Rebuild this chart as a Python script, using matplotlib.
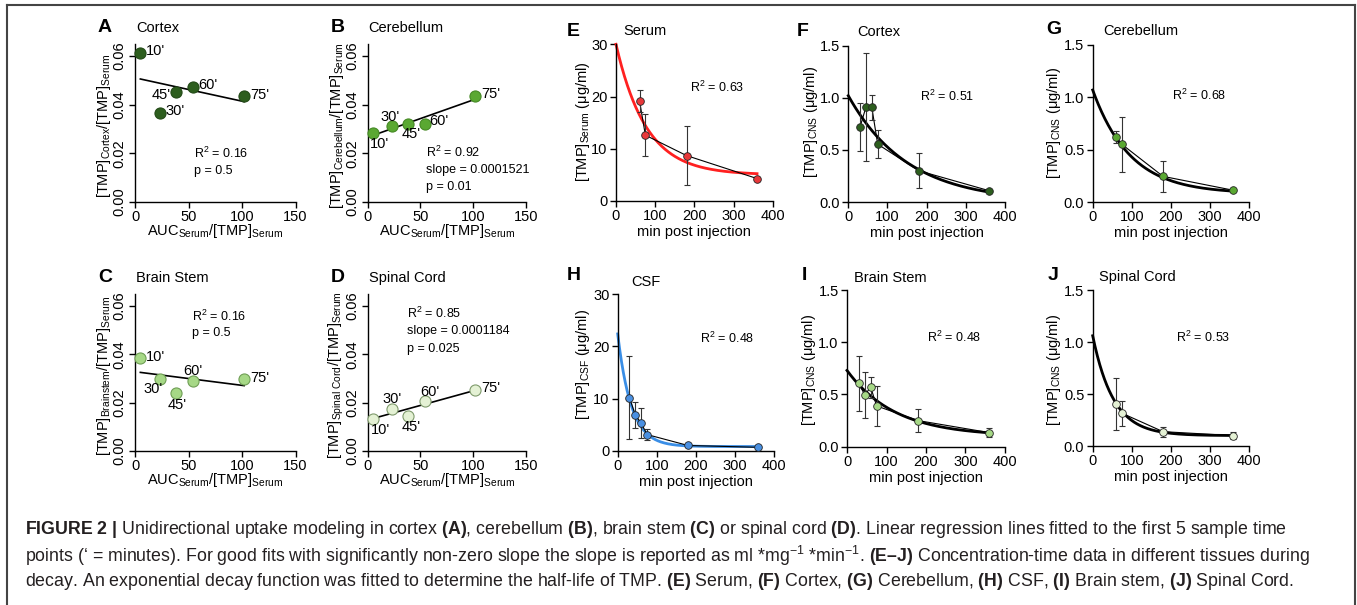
import matplotlib

matplotlib.use("Agg")

import matplotlib.pyplot as plt  # noqa: E402
import numpy as np  # noqa: E402
from matplotlib.lines import Line2D  # noqa: E402

plt.rcParams["font.family"] = ["Liberation Sans", "DejaVu Sans"]
plt.rcParams["mathtext.fontset"] = "custom"
plt.rcParams["mathtext.rm"] = "Liberation Sans"
plt.rcParams["mathtext.it"] = "Liberation Sans:italic"
plt.rcParams["mathtext.bf"] = "Liberation Sans:bold"

# ---- data: uptake (A-D) ----
auc_ratio = [5, 23, 38, 54, 102]
time_labels = ["10'", "30'", "45'", "60'", "75'"]
ratio_cortex = [0.0612, 0.0365, 0.0454, 0.0472, 0.0435]
ratio_cerebellum = [0.0282, 0.0312, 0.0319, 0.0322, 0.0436]
ratio_brainstem = [0.0386, 0.0299, 0.0241, 0.0290, 0.0300]
ratio_spinal = [0.0132, 0.0174, 0.0146, 0.0207, 0.0251]

# ---- data: decay (E-J) ----
t_serum = [60, 75, 180, 360]
serum_mean = [19.2, 12.6, 8.7, 4.3]
serum_err = [2.1, 4.0, 5.7, 0.0]

t_cortex = [30, 45, 60, 75, 180, 360]
cortex_mean = [0.72, 0.91, 0.91, 0.555, 0.30, 0.108]
cortex_err = [0.23, 0.52, 0.12, 0.135, 0.17, 0.0]

t_cerebellum = [60, 75, 180, 360]
cerebellum_mean = [0.62, 0.55, 0.245, 0.112]
cerebellum_err = [0.055, 0.26, 0.145, 0.0]

t_csf = [30, 45, 60, 75, 180, 360]
csf_mean = [10.2, 6.85, 5.3, 3.1, 1.0, 0.65]
csf_err = [7.9, 2.55, 2.9, 1.0, 0.2, 0.0]

t_brainstem = [30, 45, 60, 75, 180, 360]
brainstem_mean = [0.605, 0.495, 0.57, 0.39, 0.25, 0.135]
brainstem_err = [0.263, 0.223, 0.1, 0.19, 0.113, 0.044]

t_spinal = [60, 75, 180, 360]
spinal_mean = [0.40, 0.315, 0.138, 0.10]
spinal_err = [0.25, 0.12, 0.048, 0.033]

# one-phase decay fits: (y0, plateau, k)
fit_serum = (30.0, 5.0, 0.013)
fit_cortex = (1.02, 0.0, 0.0066)
fit_cerebellum = (1.07, 0.08, 0.0104)
fit_csf = (22.4, 0.8, 0.029)
fit_brainstem = (0.73, 0.10, 0.0082)
fit_spinal = (1.06, 0.10, 0.0189)

W, H = 1357, 605
fig = plt.figure(figsize=(W / 100, H / 100), dpi=100)


def px_axes(x0, x1, yb, yt):
    return fig.add_axes([x0 / W, 1 - yb / H, (x1 - x0) / W, (yb - yt) / H])


def ftext(x, y, s, **kw):
    kw.setdefault("va", "center")
    return fig.text(x / W, 1 - y / H, s, **kw)


def style(ax, rot_y=False):
    ax.spines[["top", "right"]].set_visible(False)
    ax.spines[["left", "bottom"]].set_linewidth(1.0)
    ax.tick_params(direction="out", length=4, width=1, labelsize=10.5, pad=2)
    if rot_y:
        ax.tick_params(axis="y", labelrotation=90)
        for lab in ax.get_yticklabels():
            lab.set_va("center")


def uptake_panel(box, y, color, edge, labels_off, stats, letter, title, ylabel):
    ax = px_axes(*box)
    ax.plot(auc_ratio, y, "o", ms=8, mfc=color, mec=edge, mew=0.8, zorder=3, clip_on=False)
    slope, icpt = np.polyfit(auc_ratio, y, 1)
    xr = np.array([min(auc_ratio), max(auc_ratio)])
    ax.plot(xr, slope * xr + icpt, color="black", lw=1.2, zorder=2)
    for xi, yi, lab, (dx, dy, ha) in zip(auc_ratio, y, time_labels, labels_off):
        ax.annotate(lab, (xi, yi), xytext=(dx, dy), textcoords="offset pixels",
                    ha=ha, va="center", fontsize=10.5)
    ax.set_xlim(0, 150)
    ax.set_ylim(0, 0.065)
    ax.set_xticks([0, 50, 100, 150])
    ax.set_yticks([0, 0.02, 0.04, 0.06])
    ax.set_yticklabels(["0.00", "0.02", "0.04", "0.06"])
    style(ax, rot_y=True)
    x0, x1, yb, yt = box
    for (sx, sy, s) in stats:
        ftext(sx, sy, s, fontsize=9, ha="left")
    ftext(x0 - 37, yt - 16, letter, fontsize=14, fontweight="bold", ha="left")
    ftext(x0 + 1, yt - 16, title, fontsize=10.5, ha="left")
    ftext(x0 - 31, (yb + yt) / 2 + 3, ylabel, fontsize=10.5, rotation=90, ha="center")
    ftext((x0 + x1) / 2, yb + 29, r"AUC$_{\mathrm{Serum}}$/[TMP]$_{\mathrm{Serum}}$",
          fontsize=10.5, ha="center")
    return ax


def decay_panel(box, t, mean, err, fit, color, fit_color, ymax, yticks, yticklabels,
                letter, letter_xy, title, title_xy, r2, r2_xy, ylabel, ylabel_xy):
    ax = px_axes(*box)
    y0, plat, k = fit
    tt = np.linspace(0, 360, 300)
    ax.plot(tt, (y0 - plat) * np.exp(-k * tt) + plat, color=fit_color, lw=2.0, zorder=2,
            clip_on=False)
    ax.plot(t, mean, color="black", lw=0.8, zorder=3)
    ax.errorbar(t, mean, yerr=err, fmt="none", ecolor="#333333", elinewidth=0.8,
                capsize=2.5, capthick=0.8, zorder=3)
    ax.plot(t, mean, "o", ms=5.5, mfc=color, mec="#222222", mew=0.6, zorder=4, clip_on=False)
    ax.set_xlim(0, 400)
    ax.set_ylim(0, ymax)
    ax.set_xticks([0, 100, 200, 300, 400])
    ax.set_yticks(yticks)
    ax.set_yticklabels(yticklabels)
    style(ax)
    x0, x1, yb, yt = box
    ftext(letter_xy[0], letter_xy[1], letter, fontsize=14, fontweight="bold", ha="left")
    ftext(title_xy[0], title_xy[1], title, fontsize=10.5, ha="left")
    ftext(r2_xy[0], r2_xy[1], r2, fontsize=9, ha="left")
    ftext(ylabel_xy[0], ylabel_xy[1], ylabel, fontsize=10.5, rotation=90, ha="center")
    ftext((x0 + x1) / 2, yb + 31, "min post injection", fontsize=10.5, ha="center")
    return ax


# A - Cortex
uptake_panel((135, 295.5, 202, 43.8), ratio_cortex, "#2d5e1e", "#234a17",
             [(6, 2, "left"), (6, 2, "left"), (-5, -3, "right"), (5, 2, "left"), (6, 1, "left")],
             [(194, 153, r"R$^2$ = 0.16"), (194, 171, "p = 0.5")],
             "A", "Cortex", r"[TMP]$_{\mathrm{Cortex}}$/[TMP]$_{\mathrm{Serum}}$")
# B - Cerebellum
uptake_panel((367.7, 526, 202, 43.8), ratio_cerebellum, "#5aa832", "#468a25",
             [(-3, -11, "left"), (-2, 9, "center"), (3, -10, "center"), (5, 3, "left"), (6, 2, "left")],
             [(426, 152, r"R$^2$ = 0.92"), (426, 170, "slope = 0.0001521"), (426, 187, "p = 0.01")],
             "B", "Cerebellum", r"[TMP]$_{\mathrm{Cerebellum}}$/[TMP]$_{\mathrm{Serum}}$")
# C - Brain stem
uptake_panel((135, 295.5, 451, 294), ratio_brainstem, "#a6d886", "#6f9e55",
             [(6, 1, "left"), (-7, -10, "center"), (2, -12, "center"), (0, 10, "center"), (6, 1, "left")],
             [(192, 316, r"R$^2$ = 0.16"), (192, 333, "p = 0.5")],
             "C", "Brain Stem", r"[TMP]$_{\mathrm{Brainstem}}$/[TMP]$_{\mathrm{Serum}}$")
# D - Spinal cord
uptake_panel((367.7, 526, 451, 294), ratio_spinal, "#e4f1d4", "#7f9a6c",
             [(-2, -11, "left"), (0, 10, "center"), (3, -11, "center"), (5, 9, "center"), (6, 2, "left")],
             [(407, 313, r"R$^2$ = 0.85"), (407, 331, "slope = 0.0001184"), (407, 349, "p = 0.025")],
             "D", "Spinal Cord", r"[TMP]$_{\mathrm{Spinal\ Cord}}$/[TMP]$_{\mathrm{Serum}}$")

cns_ticks = [0, 0.5, 1.0, 1.5]
cns_labels = ["0.0", "0.5", "1.0", "1.5"]
cns_ylabel = r"[TMP]$_{\mathrm{CNS}}$ (μg/ml)"

decay_panel((616, 772.7, 201, 44.3), t_serum, serum_mean, serum_err, fit_serum,
            "#e8383a", "#ff2020", 30, [0, 10, 20, 30], ["0", "10", "20", "30"],
            "E", (567, 31), "Serum", (623, 31), r"R$^2$ = 0.63", (690, 87),
            r"[TMP]$_{\mathrm{Serum}}$ (μg/ml)", (583, 122))
decay_panel((848.3, 1005, 202, 45.7), t_cortex, cortex_mean, cortex_err, fit_cortex,
            "#2d5e1e", "black", 1.5, cns_ticks, cns_labels,
            "F", (797, 31), "Cortex", (857, 32), r"R$^2$ = 0.51", (920, 96),
            cns_ylabel, (811, 122))
decay_panel((1092.7, 1249, 202, 45), t_cerebellum, cerebellum_mean, cerebellum_err,
            fit_cerebellum, "#5aa832", "black", 1.5, cns_ticks, cns_labels,
            "G", (1046, 30), "Cerebellum", (1103, 31), r"R$^2$ = 0.68", (1172, 95),
            cns_ylabel, (1054, 123))
decay_panel((617.7, 774, 450.7, 294.3), t_csf, csf_mean, csf_err, fit_csf,
            "#4a90e2", "#3a8ee6", 30, [0, 10, 20, 30], ["0", "10", "20", "30"],
            "H", (567, 275), "CSF", (631, 282), r"R$^2$ = 0.48", (700, 338),
            r"[TMP]$_{\mathrm{CSF}}$ (μg/ml)", (583, 365))
decay_panel((847, 1005, 446.7, 290), t_brainstem, brainstem_mean, brainstem_err,
            fit_brainstem, "#a6d886", "black", 1.5, cns_ticks, cns_labels,
            "I", (802, 276), "Brain Stem", (854, 278), r"R$^2$ = 0.48", (927, 337),
            cns_ylabel, (809, 370))
decay_panel((1092.7, 1249, 446, 290), t_spinal, spinal_mean, spinal_err, fit_spinal,
            "#e4f1d4", "black", 1.5, cns_ticks, cns_labels,
            "J", (1048, 275), "Spinal Cord", (1099, 277), r"R$^2$ = 0.53", (1176, 337),
            cns_ylabel, (1054, 370))

# caption
caption = [
    r"$\mathbf{FIGURE\ 2\ |}$ Unidirectional uptake modeling in cortex $\mathbf{(A)}$, "
    r"cerebellum $\mathbf{(B)}$, brain stem $\mathbf{(C)}$ or spinal cord $\mathbf{(D)}$. "
    r"Linear regression lines fitted to the first 5 sample time",
    r"points (‘ = minutes). For good fits with significantly non-zero slope the slope is "
    r"reported as ml *mg$^{-1}$ *min$^{-1}$. $\mathbf{(E–J)}$ Concentration-time data in "
    r"different tissues during",
    r"decay. An exponential decay function was fitted to determine the half-life of TMP. "
    r"$\mathbf{(E)}$ Serum, $\mathbf{(F)}$ Cortex, $\mathbf{(G)}$ Cerebellum, "
    r"$\mathbf{(H)}$ CSF, $\mathbf{(I)}$ Brain stem, $\mathbf{(J)}$ Spinal Cord.",
]
for i, line in enumerate(caption):
    ftext(25, 530 + 26 * i, line, fontsize=12.8, ha="left", color="#231f20")

# frame
frame_kw = dict(color="#444444", lw=1.5, transform=fig.transFigure)
fig.add_artist(Line2D([7 / W, 1355 / W], [1 - 5 / H, 1 - 5 / H], **frame_kw))
fig.add_artist(Line2D([7 / W, 7 / W], [0, 1 - 5 / H], **frame_kw))
fig.add_artist(Line2D([1355 / W, 1355 / W], [0, 1 - 5 / H], **frame_kw))

fig.savefig("out.png", dpi=100)
